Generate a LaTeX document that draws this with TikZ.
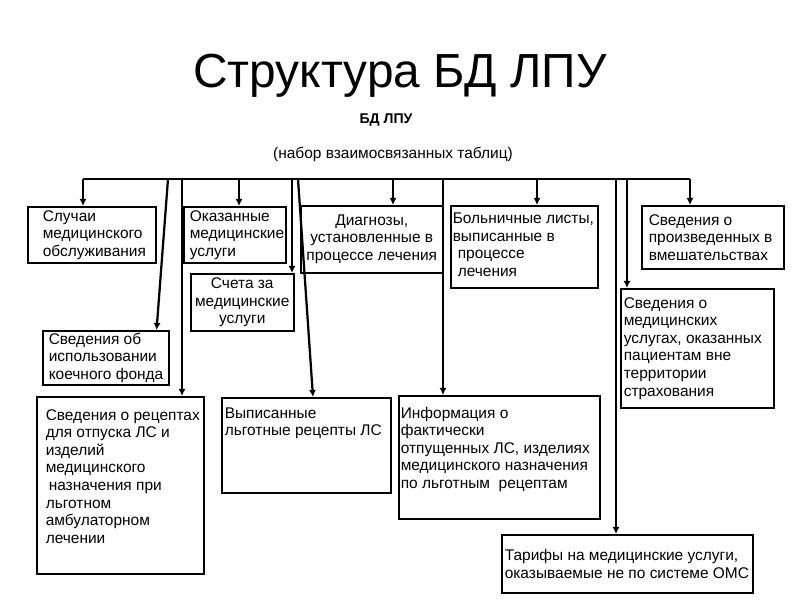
\documentclass[tikz,border=0pt]{standalone}
\usepackage{fontspec}
\setmainfont{Liberation Sans}
\usetikzlibrary{arrows.meta,calc}
\newdimen\pxu \pxu=0.025cm
\long\def\tabl(#1)(#2,#3)(#4,#5)[#6]#7{\node[tabl] (#1) at (#2,#3) {\parbox[t][#5\pxu][#6]{#4\pxu}{#7}};}
\tikzset{
	tabl/.style={draw, line width=1.1pt, anchor=north west, inner sep=0pt, font=\fontsize{11}{12.5}\selectfont},
	feed/.style={line width=1.6pt, -{Latex[length=5pt,width=5pt]}},
	bus/.style={line width=1.3pt},
}
\begin{document}
\begin{tikzpicture}[x=0.025cm,y=-0.025cm]
				%%%%% START %%%%%
				\useasboundingbox (0,0) rectangle (800,600);
				
				\node[anchor=base] (title) at (400,87) {\fontsize{34}{40}\selectfont Структура БД ЛПУ};
				\node[anchor=base, font=\bfseries\fontsize{10}{12}\selectfont] (db) at (386,123) {БД ЛПУ};
				\node[anchor=base, font=\fontsize{11}{13}\selectfont] (set) at (393,158) {(набор взаимосвязанных таблиц)};
				
				\tabl(sluch)(27,206)(128,56)[c]{\leftskip=15\pxu Случаи\\медицинского\\обслуживания}
				\tabl(okaz)(183,206)(102,56)[c]{\leftskip=6\pxu Оказанные\\медицинские\\услуги}
				\tabl(schet)(190,273)(103,57)[c]{\centering Счета за\\медицинские\\услуги\par}
				\tabl(diag)(300,205)(142,67)[c]{\centering Диагнозы,\\установленные в\\процессе лечения\par}
				\tabl(boln)(450,205)(147,82)[t]{\vspace*{5pt}\leftskip=2\pxu Больничные листы,\\выписанные в\\\hspace*{5\pxu}процессе\\\hspace*{5\pxu}лечения}
				\tabl(proizv)(641,205)(142,63)[c]{\leftskip=7\pxu Сведения о\\произведенных в\\вмешательствах}
				\tabl(vneter)(620,288)(153,119)[c]{\leftskip=3\pxu Сведения о\\медицинских\\услугах, оказанных\\пациентам вне\\территории\\страхования}
				\tabl(koech)(42,330)(126,54)[c]{\leftskip=6\pxu Сведения об\\использовании\\коечного фонда}
				\tabl(recept)(36,396)(167,177)[t]{\vspace*{9pt}\leftskip=9\pxu Сведения о рецептах\\для отпуска ЛС и\\изделий\\медицинского\\\hspace*{3\pxu}назначения при\\льготном\\амбулаторном\\лечении}
				\tabl(vypis)(221,397)(169,95)[t]{\vspace*{7pt}\leftskip=3\pxu Выписанные\\льготные рецепты ЛС}
				\tabl(inform)(398,395)(201,123)[t]{\vspace*{8pt}\leftskip=2\pxu Информация о\\фактически\\отпущенных ЛС, изделиях\\медицинского назначения\\по льготным\ \ рецептам}
				\tabl(tarif)(501,534)(251,58)[c]{\leftskip=3\pxu Тарифы на медицинские услуги,\\оказываемые не по системе ОМС}
				
				% bus
				\coordinate (b1) at (83,179);
				\coordinate (b2) at (168,179);
				\coordinate (b3) at (182,179);
				\coordinate (b4) at (239,179);
				\coordinate (b5) at (292,179);
				\coordinate (b6) at (298,179);
				\coordinate (b7) at (393,179);
				\coordinate (b8) at (443,179);
				\coordinate (b9) at (537,179);
				\coordinate (b10) at (616,179);
				\coordinate (b11) at (627,179);
				\coordinate (b12) at (690,179);
				\draw[bus] (b1) -- (b12);
				
				\draw[feed] (b1) -- (b1 |- sluch.north);
				\draw[feed] (b2) -- ($(koech.north east)+(-13,0)$);
				\draw[feed] (b3) -- (b3 |- recept.north);
				\draw[feed] (b4) -- (b4 |- okaz.north);
				\draw[feed] (b5) -- (b5 |- schet.north);
				\draw[feed] (b6) -- ($(vypis.north west)+(92,0)$);
				\draw[feed] (b7) -- (b7 |- diag.north);
				\draw[feed] (b8) -- (b8 |- inform.north);
				\draw[feed] (b9) -- (b9 |- boln.north);
				\draw[feed] (b10) -- (b10 |- tarif.north);
				\draw[feed] (b11) -- (b11 |- vneter.north);
				\draw[feed] (b12) -- (b12 |- proizv.north);
				%%%%% END %%%%%
\end{tikzpicture}
\end{document}
